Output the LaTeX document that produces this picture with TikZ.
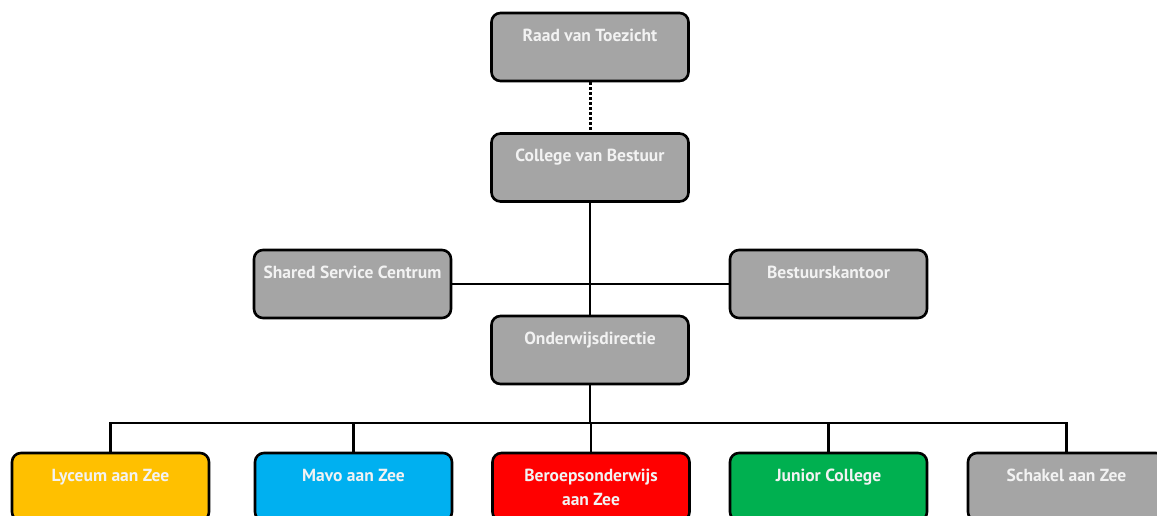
\documentclass[tikz,border=0pt]{standalone}
\usepackage{fontspec}
\newfontfamily\boxfont{PT Sans}
\definecolor{boxgray}{HTML}{A5A5A5}
\definecolor{lyc}{HTML}{FFC000}
\definecolor{mavo}{HTML}{00B0F0}
\definecolor{bero}{HTML}{FF0000}
\definecolor{junior}{HTML}{00B050}
\definecolor{txtcol}{HTML}{F2F2F2}
\newcommand\bt[1]{\parbox[c][68pt][t]{194pt}{\centering\rule{0pt}{28pt}#1}}
\tikzset{
  orgbox/.style={draw=black, line width=2.6pt, rounded corners=9pt,
    minimum width=197pt, minimum height=68pt, inner sep=0pt,
    fill=boxgray, text=txtcol,
    font=\boxfont\bfseries\fontsize{17.5}{24}\selectfont},
  conn/.style={draw=black, line width=2.6pt},
  dotconn/.style={draw=black, line width=3pt, dash pattern=on 2.5pt off 2.5pt}
}
\begin{document}
\begin{tikzpicture}[x=1pt, y=-1pt]
\useasboundingbox (0,0) rectangle (1157,515);
\node[orgbox] (raad) at (590,47) {\bt{Raad van Toezicht}};
\node[orgbox] (cvb) at (590,167.5) {\bt{College van Bestuur}};
\node[orgbox] (ssc) at (352.5,284) {\bt{Shared Service Centrum}};
\node[orgbox] (bk) at (828.5,284) {\bt{Bestuurskantoor}};
\node[orgbox] (od) at (590,350) {\bt{Onderwijsdirectie}};
\node[orgbox, fill=lyc] (lyc) at (110.5,487) {\bt{Lyceum aan Zee}};
\node[orgbox, fill=mavo] (mavo) at (353.5,487) {\bt{Mavo aan Zee}};
\node[orgbox, fill=bero] (bero) at (591,487) {\bt{Beroepsonderwijs\\aan Zee}};
\node[orgbox, fill=junior] (jc) at (828.5,487) {\bt{Junior College}};
\node[orgbox] (sch) at (1066.5,487) {\bt{Schakel aan Zee}};
\coordinate (bus) at (590,423);
\draw[dotconn] (raad.south) -- (cvb.north);
\draw[conn] (cvb.south) -- (od.north);
\draw[conn] (ssc.east) -- (bk.west);
\draw[conn] (od.south) -- (od.south |- bus);
\draw[conn] (lyc.north) -- (lyc.north |- bus) -| (sch.north);
\draw[conn] (mavo.north) -- (mavo.north |- bus);
\draw[conn] (bero.north) -- (bero.north |- bus);
\draw[conn] (jc.north) -- (jc.north |- bus);
\end{tikzpicture}
\end{document}
